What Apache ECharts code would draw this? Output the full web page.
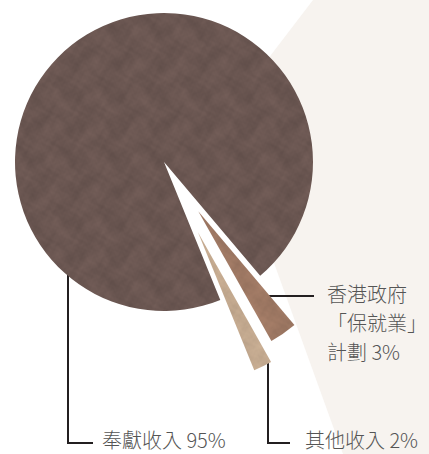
<!DOCTYPE html>
<html><head><meta charset="utf-8">
<script src="https://cdn.jsdelivr.net/npm/echarts@6/dist/echarts.min.js"></script>
<style>html,body{margin:0;padding:0;background:#fff;}#c{width:429px;height:454px;}</style>
</head><body><div id="c"></div>
<script>
// ---- data ----
const categories = ['奉獻收入', '香港政府「保就業」計劃', '其他收入'];
const values = [95, 3, 2];
const labelTexts = ['奉獻收入 95%', '香港政府\n「保就業」\n計劃 3%', '其他收入 2%'];

// ---- layout / style ----
const CX = 164, CY = 162, R = 149, START = 292.2;
const OFFSETS = [0, 60, 78];
const COLORS = ['#6a5651', '#9e7863', '#c3a98f'];
const TEX_AMP = [0.09, 0.07, 0.06];
const FONT = '"Noto Sans CJK TC", "Noto Sans CJK SC", sans-serif';
const TEXT_COLOR = '#555555';
const LINE_COLOR = '#231f20';

function makeTexture(hex, amp, shift) {
  const S = 128;
  const cv = document.createElement('canvas');
  cv.width = cv.height = S;
  const ctx = cv.getContext('2d');
  const img = ctx.createImageData(S, S);
  const r0 = parseInt(hex.slice(1, 3), 16), g0 = parseInt(hex.slice(3, 5), 16), b0 = parseInt(hex.slice(5, 7), 16);
  const T = 2 * Math.PI / S;
  for (let y = 0; y < S; y++) {
    for (let x = 0; x < S; x++) {
      let n = Math.sin(3 * T * x + 1.3 * Math.sin(2 * T * y + shift))
        + Math.sin(4 * T * y + 1.7 * Math.sin(3 * T * x + shift))
        + 0.7 * Math.sin(7 * T * (x + y) + 1.5 * Math.sin(5 * T * x))
        + 0.6 * Math.sin(9 * T * (x - y) + 2 * Math.sin(4 * T * y))
        + 0.4 * Math.sin(13 * T * x + 3 * Math.sin(11 * T * y))
        + 0.35 * Math.sin(17 * T * y + 3 * Math.sin(14 * T * x));
      n = n / 4;
      const f = 1 + amp * n;
      const i = (y * S + x) * 4;
      img.data[i] = Math.max(0, Math.min(255, r0 * f));
      img.data[i + 1] = Math.max(0, Math.min(255, g0 * f));
      img.data[i + 2] = Math.max(0, Math.min(255, b0 * f));
      img.data[i + 3] = 255;
    }
  }
  ctx.putImageData(img, 0, 0);
  return cv.toDataURL();
}
const textures = COLORS.map((c, i) => makeTexture(c, TEX_AMP[i], i * 1.7));

// slice geometry derived from the data
const total = values.reduce((a, b) => a + b, 0);
const geo = [];
{
  let a0 = START;
  values.forEach((v, j) => {
    const a1 = a0 - v / total * 360;
    const mid = (a0 + a1) / 2 * Math.PI / 180;
    geo.push({
      a0: a0 * Math.PI / 180, a1: a1 * Math.PI / 180,
      ax: CX + OFFSETS[j] * Math.cos(mid), ay: CY - OFFSETS[j] * Math.sin(mid)
    });
    a0 = a1;
  });
}
function arcY(j, x) { const g = geo[j]; return g.ay + Math.sqrt(R * R - (x - g.ax) * (x - g.ax)); }
function edgeX(j, y) { const g = geo[j]; const a = g.a0; return g.ax + (y - g.ay) * Math.cos(a) / (-Math.sin(a)); }

function seriesFor(i) {
  return {
    type: 'pie', center: [CX, CY], radius: R, startAngle: START, clockwise: true,
    silent: true, animation: false, avoidLabelOverlap: false,
    label: { show: false }, labelLine: { show: false },
    emphasis: { disabled: true }, selectedMode: 'multiple', selectedOffset: OFFSETS[i],
    z: 3,
    data: values.map((v, j) => ({
      name: categories[j], value: v, selected: j === i && OFFSETS[i] > 0,
      itemStyle: j === i ? { color: { image: textures[i], repeat: 'repeat' } } : { color: 'rgba(0,0,0,0)' }
    }))
  };
}

// leader lines
const L0x = 68, bottomY = 443, L2x = 268, L1y = 296;
const lines = [
  [[L0x, arcY(0, L0x) - 1], [L0x, bottomY], [93, bottomY]],
  [[edgeX(1, L1y) - 1, L1y], [314, L1y]],
  [[L2x, arcY(2, L2x) - 1], [L2x, bottomY], [290, bottomY]]
];
const labelPos = [[102, 439.5, 'middle', 20], [327, 279, 'top', 29], [305, 439.5, 'middle', 20]];

const graphic = [
  { type: 'polygon', z: -10, silent: true,
    shape: { points: [[313, 0], [429, 0], [429, 454], [343, 454], [222, 119]] },
    style: { fill: '#f7f3ef' } }
];
lines.forEach(pts => graphic.push({
  type: 'polyline', z: 1, silent: true, shape: { points: pts },
  style: { stroke: LINE_COLOR, lineWidth: 2, fill: null }
}));
labelTexts.forEach((t, i) => graphic.push({
  type: 'text', z: 10, silent: true, x: labelPos[i][0], y: labelPos[i][1],
  style: { text: t, fill: TEXT_COLOR, fontSize: 20, fontWeight: 300, fontFamily: FONT,
    align: 'left', verticalAlign: labelPos[i][2], lineHeight: labelPos[i][3] }
}));

const chart = echarts.init(document.getElementById('c'), null, { renderer: 'svg' });
chart.setOption({
  animation: false,
  backgroundColor: '#ffffff',
  graphic: graphic,
  series: values.map((_, i) => seriesFor(i))
});
</script>
</body></html>
